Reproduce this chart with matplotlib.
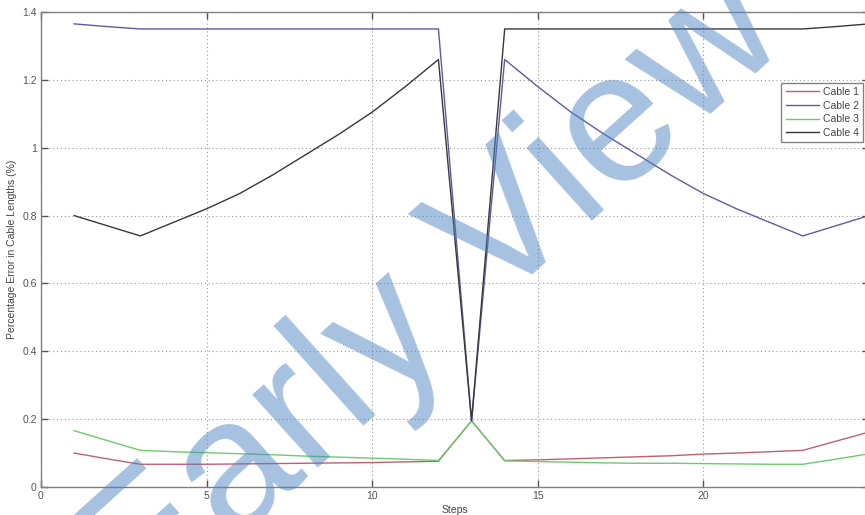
import matplotlib.pyplot as plt

plt.rcParams['font.family'] = ['Liberation Sans', 'DejaVu Sans']

# Percentage error per step for each cable
steps = list(range(1, 26))
cable1 = [0.100, 0.083, 0.067, 0.067, 0.067, 0.068, 0.069, 0.070, 0.071, 0.072,
          0.074, 0.076, 0.195, 0.078, 0.080, 0.083, 0.086, 0.089, 0.092, 0.097,
          0.100, 0.104, 0.108, 0.135, 0.162]
cable2 = [1.365, 1.357, 1.350, 1.350, 1.350, 1.350, 1.350, 1.350, 1.350, 1.350,
          1.350, 1.350, 0.195, 1.260, 1.180, 1.105, 1.040, 0.980, 0.920, 0.865,
          0.820, 0.780, 0.740, 0.770, 0.800]
cable3 = [0.166, 0.137, 0.108, 0.104, 0.101, 0.098, 0.095, 0.091, 0.088, 0.085,
          0.082, 0.078, 0.195, 0.077, 0.075, 0.073, 0.071, 0.070, 0.070, 0.069,
          0.068, 0.067, 0.067, 0.082, 0.098]
cable4 = [0.800, 0.770, 0.740, 0.780, 0.820, 0.865, 0.920, 0.980, 1.040, 1.105,
          1.180, 1.260, 0.195, 1.350, 1.350, 1.350, 1.350, 1.350, 1.350, 1.350,
          1.350, 1.350, 1.350, 1.357, 1.365]
labels = ['Cable 1', 'Cable 2', 'Cable 3', 'Cable 4']
colors = ['#c06070', '#5c5ca4', '#6ccc6c', '#383838']

fig = plt.figure(figsize=(8.65, 5.15), dpi=100)
ax = fig.add_axes([41 / 865, 1 - 487 / 515, 828 / 865, 475 / 515])

for ys, lab, c in zip([cable1, cable2, cable3, cable4], labels, colors):
    ax.plot(steps, ys, color=c, lw=1.0, label=lab)

ax.set_xlim(0, 25)
ax.set_ylim(0, 1.4)
ax.set_xticks([0, 5, 10, 15, 20, 25])
ax.set_xticklabels(['0', '5', '10', '15', '20', ''])
ax.set_yticks([0, 0.2, 0.4, 0.6, 0.8, 1.0, 1.2, 1.4])
ax.set_yticklabels(['0', '0.2', '0.4', '0.6', '0.8', '1', '1.2', '1.4'])
ax.grid(True, linestyle=(0, (1, 2.5)), color='#9a9a9a', lw=0.8)
ax.tick_params(direction='in', length=5, width=1, colors='#555555',
               labelsize=7.5, top=True, right=True, pad=3)
for s in ax.spines.values():
    s.set_color('#808080')
    s.set_linewidth(1.0)

ax.set_xlabel('Steps', fontsize=7.5, color='#444444', labelpad=3)
ax.set_ylabel('Percentage Error in Cable Lengths (%)', fontsize=7.5,
              color='#444444', labelpad=4)

leg = ax.legend(loc='upper right', bbox_to_anchor=(0.993, 0.851),
                borderaxespad=0, fontsize=7.5, fancybox=False,
                handlelength=3.2, handletextpad=0.4, labelspacing=0.35,
                borderpad=0.4)
leg.get_frame().set_edgecolor('#666666')
leg.get_frame().set_linewidth(1.0)
for t in leg.get_texts():
    t.set_color('#444444')

# diagonal watermark
fig.text(465 / 865, 1 - 335 / 515, 'Early View', fontsize=134,
         color='#4d85c1', alpha=0.5, rotation=42, ha='center',
         va='baseline', rotation_mode='anchor', zorder=10)

fig.savefig('out.png', dpi=100)
